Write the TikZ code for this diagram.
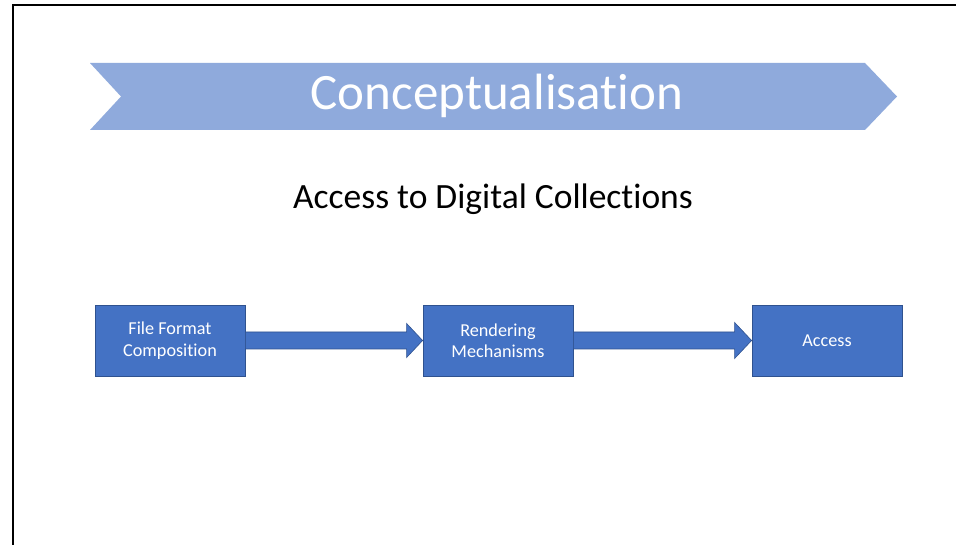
\documentclass[tikz,border=0pt]{standalone}
\usepackage{fontspec}
\setmainfont{Carlito}[Ligatures={NoCommon}]
\usetikzlibrary{calc}
\definecolor{boxblue}{HTML}{4472C4}
\definecolor{boxedge}{HTML}{2F528F}
\definecolor{chev}{HTML}{8FAADC}
\begin{document}
\begin{tikzpicture}[x=1pt,y=-1pt,
  stepbox/.style={draw=boxedge,line width=0.8pt,fill=boxblue,text=white,minimum width=150pt,minimum height=71pt,inner sep=0pt,align=center,font=\fontsize{18.2}{21.5}\selectfont},
  flowarrow/.style={fill=boxblue,draw=boxedge,line width=0.6pt,line join=miter}]
\useasboundingbox (0,0) rectangle (956,545);
\fill[white] (0,0) rectangle (956,545);
% frame
\draw[line width=2.8pt] (956,5) -- (13,5) -- (13,545);
% chevron
\fill[chev] (90,63) -- (865,63) -- (897,96.5) -- (865,130) -- (90,130) -- (121,96.5) -- cycle;
\node[text=white,font=\fontsize{51}{58}\selectfont] (title) at (497,96) {Conceptualisation};
\node[text=black,font=\fontsize{35.5}{42}\selectfont] (sub) at (493,199) {Access to Digital Collections};
% boxes
\node[stepbox] (b1) at (170,340.5) {File Format\\Composition};
\node[stepbox] (b2) at (498,340.5) {Rendering\\Mechanisms};
\node[stepbox] (b3) at (827,340.5) {Access};
% arrows
\draw[flowarrow] ($(b1.east)+(0,-8.5)$) -- ($(b2.west)+(-16,-8.5)$) -- ($(b2.west)+(-16,-17)$) -- (b2.west) -- ($(b2.west)+(-16,17)$) -- ($(b2.west)+(-16,8.5)$) -- ($(b1.east)+(0,8.5)$) -- cycle;
\draw[flowarrow] ($(b2.east)+(0,-8.5)$) -- ($(b3.west)+(-17,-8.5)$) -- ($(b3.west)+(-17,-18)$) -- (b3.west) -- ($(b3.west)+(-17,18)$) -- ($(b3.west)+(-17,8.5)$) -- ($(b2.east)+(0,8.5)$) -- cycle;
\end{tikzpicture}
\end{document}
